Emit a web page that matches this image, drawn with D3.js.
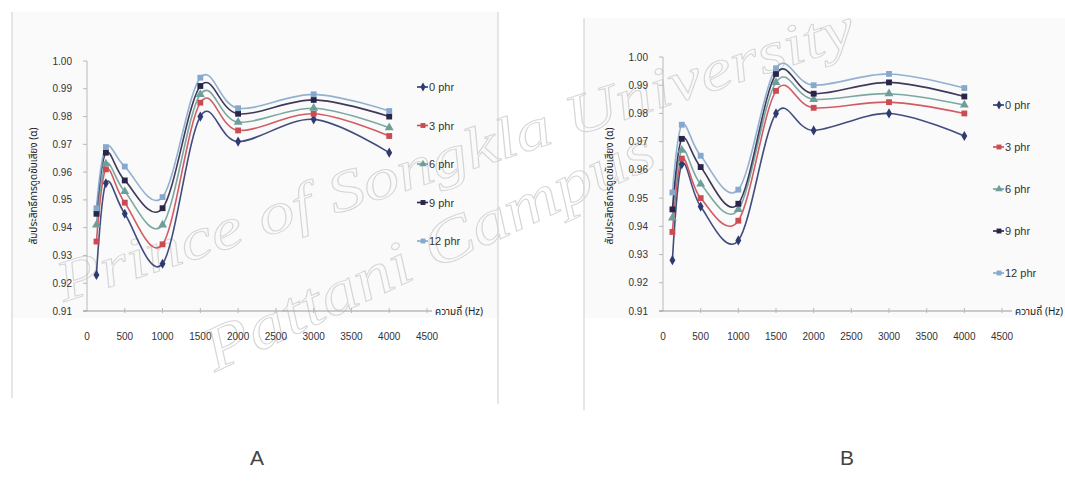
<!DOCTYPE html>
<html>
<head>
<meta charset="utf-8">
<script src="https://cdn.jsdelivr.net/npm/d3@7"></script>
<style>
 body { margin: 0; background: #fff; }
 text { font-family: "Liberation Sans", Arial, sans-serif; }
 text.wm { font-family: "Liberation Serif", "DejaVu Serif", serif; font-style: italic; }
</style>
</head>
<body>
<script>
var width = 1065, height = 487;

// frequencies (Hz) and series
var freqs = [125, 250, 500, 1000, 1500, 2000, 3000, 4000];
var seriesNames = ['0 phr', '3 phr', '6 phr', '9 phr', '12 phr'];
var xTicks = [0, 500, 1000, 1500, 2000, 2500, 3000, 3500, 4000, 4500];
var yTicks = [0.91, 0.92, 0.93, 0.94, 0.95, 0.96, 0.97, 0.98, 0.99, 1.00];

// chart A
var a0  = [0.923, 0.956, 0.945, 0.927, 0.980, 0.971, 0.979, 0.967];
var a3  = [0.935, 0.961, 0.949, 0.934, 0.985, 0.975, 0.981, 0.973];
var a6  = [0.941, 0.963, 0.953, 0.941, 0.988, 0.978, 0.983, 0.976];
var a9  = [0.945, 0.967, 0.957, 0.947, 0.991, 0.981, 0.986, 0.980];
var a12 = [0.947, 0.969, 0.962, 0.951, 0.994, 0.983, 0.988, 0.982];

// chart B
var b0  = [0.928, 0.962, 0.947, 0.935, 0.980, 0.974, 0.980, 0.972];
var b3  = [0.938, 0.964, 0.950, 0.942, 0.988, 0.982, 0.984, 0.980];
var b6  = [0.943, 0.967, 0.955, 0.946, 0.991, 0.985, 0.987, 0.983];
var b9  = [0.946, 0.971, 0.961, 0.948, 0.994, 0.987, 0.991, 0.986];
var b12 = [0.952, 0.976, 0.965, 0.953, 0.996, 0.990, 0.994, 0.989];

var colors = ['#2e3a70', '#cc4a52', '#6e9e98', '#2a2448', '#86a8cc'];
var shapes = [d3.symbolDiamond, d3.symbolSquare, d3.symbolTriangle, d3.symbolSquare, d3.symbolSquare];

var svg = d3.select('body').append('svg').attr('width', width).attr('height', height);

// page frames
svg.append('rect').attr('x', 12).attr('y', 12).attr('width', 486).attr('height', 306).attr('fill', '#fafafa');
svg.append('rect').attr('x', 584).attr('y', 18).attr('width', 481).attr('height', 300).attr('fill', '#fafafa');
[[12, 12, 398], [498, 12, 404], [584, 18, 410]].forEach(function(l) {
 svg.append('line').attr('x1', l[0]).attr('x2', l[0]).attr('y1', l[1]).attr('y2', l[2])
  .attr('stroke', '#d6d6d6').attr('stroke-width', 1.2);
});

// scan watermark (under the charts)
var wm = svg.append('g').attr('fill', 'none').attr('stroke', '#d6d6d6').attr('stroke-width', 1);
wm.append('text').attr('class', 'wm').attr('transform', 'translate(64,302) rotate(-18)')
 .attr('font-size', 58).attr('textLength', 835).attr('lengthAdjust', 'spacingAndGlyphs')
 .text('Prince of Songkla University');
wm.append('text').attr('class', 'wm').attr('transform', 'translate(215,372) rotate(-25)')
 .attr('font-size', 62).attr('textLength', 490).attr('lengthAdjust', 'spacingAndGlyphs')
 .text('Pattani Campus');

function drawChart(cfg) {
 var x = d3.scaleLinear().domain([0, 4500]).range(cfg.xr);
 var y = d3.scaleLinear().domain([0.91, 1.00]).range(cfg.yr);
 var g = svg.append('g');

 // y axis
 g.append('line').attr('x1', x(0)).attr('x2', x(0)).attr('y1', y(1.0)).attr('y2', y(0.91))
  .attr('stroke', '#b8b8b8');
 yTicks.forEach(function(t) {
  g.append('line').attr('x1', x(0) - 4).attr('x2', x(0)).attr('y1', y(t)).attr('y2', y(t)).attr('stroke', '#b8b8b8');
  g.append('text').attr('x', x(0) - cfg.labelGap).attr('y', y(t) + 3.5)
   .attr('text-anchor', 'end').attr('font-size', 10).attr('fill', '#333')
   .text(d3.format('.2f')(t));
 });

 // x axis
 g.append('line').attr('x1', x(0) - 4).attr('x2', cfg.axisEnd).attr('y1', y(0.91)).attr('y2', y(0.91))
  .attr('stroke', '#9a9a9a').attr('stroke-width', 1.2);
 xTicks.forEach(function(t) {
  if (t > 0) g.append('line').attr('x1', x(t)).attr('x2', x(t)).attr('y1', y(0.91) - 3).attr('y2', y(0.91) + 2).attr('stroke', '#b8b8b8');
  g.append('text').attr('x', x(t)).attr('y', cfg.xLabelY)
   .attr('text-anchor', 'middle').attr('font-size', 10).attr('fill', '#333').text(t);
 });
 g.append('text').attr('x', cfg.axisEnd + 3).attr('y', y(0.91) + 4)
  .attr('font-size', 10).attr('fill', '#222')
  .style('font-family', '"Noto Sans Thai", "Noto Sans", "DejaVu Sans", sans-serif')
  .text('ความถี่ (Hz)');

 // y title
 g.append('text').attr('transform', 'translate(' + cfg.titleX + ',' + cfg.titleY + ') rotate(-90)')
  .attr('text-anchor', 'middle').attr('font-size', 10).attr('fill', '#222')
  .style('font-family', '"Noto Sans Thai", "Noto Sans", "DejaVu Sans", sans-serif')
  .text('สัมประสิทธิ์การดูดซับเสียง (α)');

 var line = d3.line()
  .x(function(d, i) { return x(freqs[i]); })
  .y(function(d) { return y(d); })
  .curve(d3.curveCardinal.tension(0));

 cfg.data.forEach(function(vals, s) {
  g.append('path').attr('d', line(vals)).attr('fill', 'none')
   .attr('stroke', colors[s]).attr('stroke-width', 1.6).attr('opacity', 0.9);
 });
 cfg.data.forEach(function(vals, s) {
  g.selectAll(null).data(vals).join('path')
   .attr('d', d3.symbol().type(shapes[s]).size(s === 0 ? 30 : 34))
   .attr('transform', function(d, i) { return 'translate(' + x(freqs[i]) + ',' + y(d) + ')'; })
   .attr('fill', colors[s]);
 });

 // legend
 seriesNames.forEach(function(n, s) {
  var ly = cfg.legY + s * cfg.legStep;
  g.append('line').attr('x1', cfg.legX).attr('x2', cfg.legX + 11).attr('y1', ly).attr('y2', ly)
   .attr('stroke', colors[s]).attr('stroke-width', 1.6);
  g.append('path').attr('d', d3.symbol().type(shapes[s]).size(24)())
   .attr('transform', 'translate(' + (cfg.legX + 6) + ',' + ly + ')').attr('fill', colors[s]);
  g.append('text').attr('x', cfg.legX + 12).attr('y', ly + 4)
   .attr('font-size', 11).attr('fill', '#333').text(n);
 });
}

drawChart({
 xr: [87, 427], yr: [311, 61], labelGap: 15, axisEnd: 432, xLabelY: 340,
 titleX: 37, titleY: 186, legX: 417, legY: 87, legStep: 38.5,
 data: [a0, a3, a6, a9, a12]
});
drawChart({
 xr: [663, 1002], yr: [311, 57], labelGap: 15, axisEnd: 1012, xLabelY: 340,
 titleX: 613, titleY: 186, legX: 993, legY: 105, legStep: 42,
 data: [b0, b3, b6, b9, b12]
});

// panel labels
svg.append('text').attr('x', 257).attr('y', 465).attr('text-anchor', 'middle')
 .attr('font-size', 21).attr('font-weight', 300).attr('fill', '#444').text('A');
svg.append('text').attr('x', 847).attr('y', 465).attr('text-anchor', 'middle')
 .attr('font-size', 21).attr('font-weight', 300).attr('fill', '#444').text('B');
</script>
</body>
</html>
